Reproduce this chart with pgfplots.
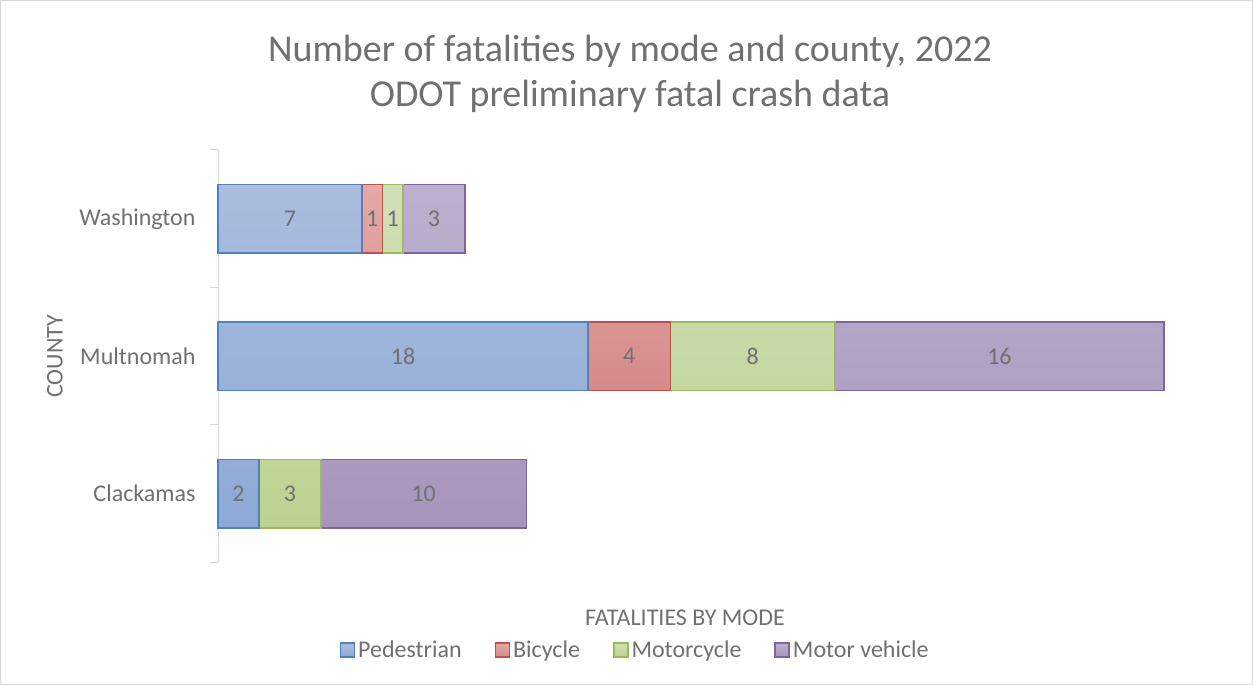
\documentclass[border=0pt]{standalone}
\usepackage{fontspec}
\setmainfont{Carlito}
\usepackage{pgfplots}
\pgfplotsset{compat=1.18}
\definecolor{txt}{HTML}{707070}
\definecolor{axgrey}{HTML}{D9D9D9}
\definecolor{pedE}{HTML}{4F81BD}\definecolor{pedT}{HTML}{AABDDE}\definecolor{pedB}{HTML}{8DA9D6}
\definecolor{bikE}{HTML}{C0504D}\definecolor{bikT}{HTML}{E4A9A8}\definecolor{bikB}{HTML}{D58B89}
\definecolor{motE}{HTML}{9BBB59}\definecolor{motT}{HTML}{D1DFB7}\definecolor{motB}{HTML}{BDD292}
\definecolor{mvE}{HTML}{8064A2}\definecolor{mvT}{HTML}{BDB1CE}\definecolor{mvB}{HTML}{A794BD}
\newcommand{\fs}{\fontsize{24}{29}\selectfont}
\begin{document}
\begin{tikzpicture}[x=1pt,y=1pt]
\draw[draw=axgrey, line width=1pt] (0.5,0.5) rectangle (1252.5,684.5);
\node[anchor=base, text=txt, font=\fontsize{38}{46}\selectfont, inner sep=0pt] at (630,623) {Number of fatalities by mode and county, 2022};
\node[anchor=base, text=txt, font=\fontsize{38}{46}\selectfont, inner sep=0pt] at (630,578) {ODOT preliminary fatal crash data};
\begin{axis}[
  at={(218pt,122.5pt)}, anchor=south west,
  scale only axis, width=946pt, height=412.5pt,
  xmin=0, xmax=46, ymin=-0.5, ymax=2.5,
  xbar stacked, bar width=0.5,
  clip=false,
  axis x line*=bottom, x axis line style={draw=none}, xtick=\empty,
  axis y line*=left, y axis line style={draw=axgrey, line width=1pt},
  ytick={0,1,2}, yticklabels={Clackamas,Multnomah,Washington},
  major tick length=0pt,
  extra y ticks={-0.5,0.5,1.5,2.5}, extra y tick labels={},
  extra y tick style={major tick length=8pt, tick align=outside, tick style={draw=axgrey, line width=1pt}},
  yticklabel style={font=\fs, text=txt, xshift=-19pt},
  ylabel={COUNTY}, xlabel={FATALITIES BY MODE},
  every axis y label/.style={at={(axis description cs:-0.1723,0.5)}, rotate=90, anchor=center, font=\fs, text=txt},
  every axis x label/.style={at={(axis description cs:0.4937,-0.1345)}, anchor=center, font=\fs, text=txt},
  legend columns=4,
  legend style={at={(axis description cs:0.4415,-0.212)}, anchor=center, draw=none, font=\fs, text=txt,
    /tikz/every even column/.append style={column sep=30pt}, nodes={inner xsep=3pt}},
  legend image code/.code={\draw[#1, line width=1.5pt] (0pt,-7pt) rectangle (14pt,7pt);},
  visualization depends on={rawx \as \rawx},
  point meta=x,
  nodes near coords={\pgfmathtruncatemacro\v{\rawx}\ifnum\v>0 \v\fi},
  every node near coord/.append style={anchor=center, font=\fs, text=txt},
]
\addplot[draw=pedE, line width=1.5pt, top color=pedT, bottom color=pedB] coordinates {(2,0) (18,1) (7,2)};
\addplot[draw=bikE, line width=1.5pt, top color=bikT, bottom color=bikB] coordinates {(0,0) (4,1) (1,2)};
\addplot[draw=motE, line width=1.5pt, top color=motT, bottom color=motB] coordinates {(3,0) (8,1) (1,2)};
\addplot[draw=mvE, line width=1.5pt, top color=mvT, bottom color=mvB] coordinates {(10,0) (16,1) (3,2)};
\legend{Pedestrian,Bicycle,Motorcycle,Motor vehicle}
\end{axis}
\end{tikzpicture}
\end{document}
